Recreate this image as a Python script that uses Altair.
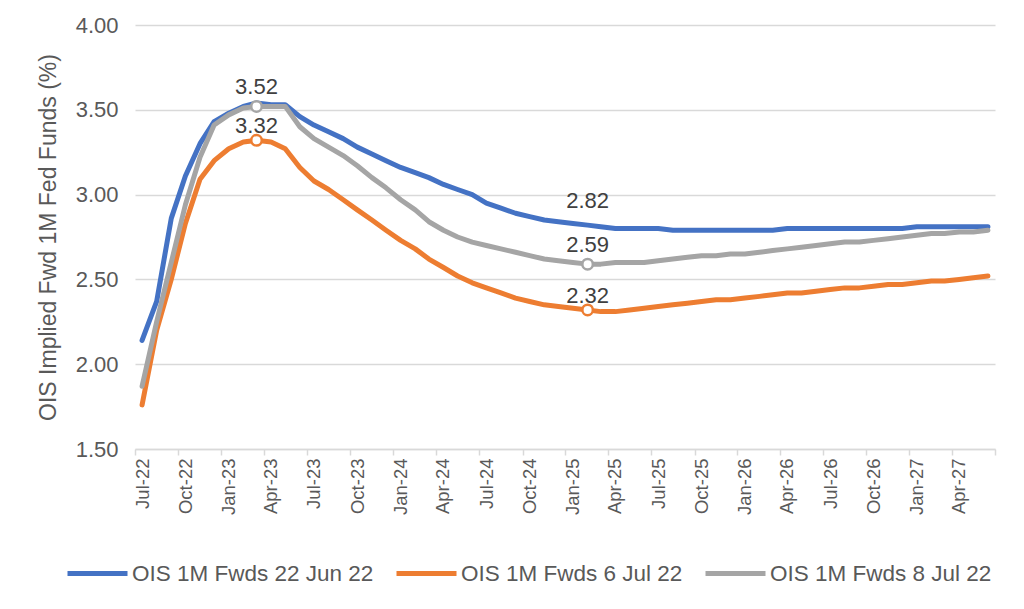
import altair as alt
import pandas as pd
from datetime import datetime, timezone

# ---------------- data ----------------
series_names = ["OIS 1M Fwds 22 Jun 22", "OIS 1M Fwds 6 Jul 22", "OIS 1M Fwds 8 Jul 22"]
series_colors = ["#4472C4", "#ED7D31", "#A5A5A5"]

n_months = 60  # Jul-22 .. Jun-27
months = [f"{2022 + (6 + i) // 12}-{(6 + i) % 12 + 1:02d}-01" for i in range(n_months)]

fwd_22jun = [2.14, 2.37, 2.86, 3.11, 3.30, 3.43, 3.48, 3.52, 3.54, 3.53, 3.53, 3.46,
             3.41, 3.37, 3.33, 3.28, 3.24, 3.20, 3.16, 3.13, 3.10, 3.06, 3.03, 3.00,
             2.95, 2.92, 2.89, 2.87, 2.85, 2.84, 2.83, 2.82, 2.81, 2.80, 2.80, 2.80,
             2.80, 2.79, 2.79, 2.79, 2.79, 2.79, 2.79, 2.79, 2.79, 2.80, 2.80, 2.80,
             2.80, 2.80, 2.80, 2.80, 2.80, 2.80, 2.81, 2.81, 2.81, 2.81, 2.81, 2.81]
fwd_6jul = [1.76, 2.20, 2.50, 2.83, 3.09, 3.20, 3.27, 3.31, 3.32, 3.31, 3.27, 3.16,
            3.08, 3.03, 2.97, 2.91, 2.85, 2.79, 2.73, 2.68, 2.62, 2.57, 2.52, 2.48,
            2.45, 2.42, 2.39, 2.37, 2.35, 2.34, 2.33, 2.32, 2.31, 2.31, 2.32, 2.33,
            2.34, 2.35, 2.36, 2.37, 2.38, 2.38, 2.39, 2.40, 2.41, 2.42, 2.42, 2.43,
            2.44, 2.45, 2.45, 2.46, 2.47, 2.47, 2.48, 2.49, 2.49, 2.50, 2.51, 2.52]
fwd_8jul = [1.87, 2.25, 2.60, 2.94, 3.22, 3.41, 3.47, 3.51, 3.52, 3.52, 3.52, 3.40,
            3.33, 3.28, 3.23, 3.17, 3.10, 3.04, 2.97, 2.91, 2.84, 2.79, 2.75, 2.72,
            2.70, 2.68, 2.66, 2.64, 2.62, 2.61, 2.60, 2.59, 2.59, 2.60, 2.60, 2.60,
            2.61, 2.62, 2.63, 2.64, 2.64, 2.65, 2.65, 2.66, 2.67, 2.68, 2.69, 2.70,
            2.71, 2.72, 2.72, 2.73, 2.74, 2.75, 2.76, 2.77, 2.77, 2.78, 2.78, 2.79]
series_values = [fwd_22jun, fwd_6jul, fwd_8jul]

y_ticks = [1.50, 2.00, 2.50, 3.00, 3.50, 4.00]

# annotations: series index, month index, label, show marker
ann_series = [2, 1, 0, 2, 1]
ann_month = [8, 8, 31, 31, 31]
ann_label = ["3.52", "3.32", "2.82", "2.59", "2.32"]
ann_marker = [True, True, False, True, True]

# ---------------- build table ----------------
rows = []
for s, vals in zip(series_names, series_values):
    for m, v in zip(months, vals):
        rows.append({"date": m, "series": s, "value": v})
df = pd.DataFrame(rows)


def ms(y, m, d):
    return int(datetime(y, m, d, tzinfo=timezone.utc).timestamp() * 1000)


dom = [ms(2022, 6, 16), ms(2027, 6, 16)]
tick_vals = []
y, m = 2022, 6
while (y, m) <= (2027, 6):
    tick_vals.append(ms(y, m, 16))
    m += 3
    if m > 12:
        m -= 12
        y += 1
last_label_limit = ms(2027, 3, 20)

FONT = "Liberation Sans"
TXT = "#595959"
GRID = "#D9D9D9"

x_enc = alt.X(
    "date:T",
    scale=alt.Scale(type="utc", domain=dom),
    axis=alt.Axis(
        values=tick_vals,
        labelExpr=(f"time(datum.value) > {last_label_limit} ? '' : "
                   "utcFormat(time(datum.value) + 1382400000, '%b-%y')"),
        title=None,
        grid=False,
        labelAngle=270,
        labelAlign="right",
        labelBaseline="middle",
        labelOffset=7,
        labelPadding=3,
        labelFontSize=18.5,
        labelFont=FONT,
        labelColor=TXT,
        domainColor=GRID,
        domainWidth=1.5,
        tickColor=GRID,
        tickWidth=1.5,
        tickSize=6,
    ),
)
y_enc = alt.Y(
    "value:Q",
    scale=alt.Scale(domain=[1.5, 4.0], nice=False, zero=False),
    axis=alt.Axis(
        values=y_ticks,
        format=".2f",
        title="OIS Implied Fwd 1M Fed Funds (%)",
        titleFont=FONT,
        titleFontSize=23,
        titleFontWeight="normal",
        titleColor=TXT,
        titlePadding=15,
        labelFont=FONT,
        labelFontSize=22,
        labelColor=TXT,
        labelPadding=17,
        ticks=False,
        tickSize=0,
        domain=False,
        grid=True,
        gridColor=GRID,
        gridWidth=1.5,
    ),
)

lines = alt.Chart(df).mark_line(strokeWidth=5, strokeCap="round", strokeJoin="round").encode(
    x=x_enc,
    y=y_enc,
    color=alt.Color(
        "series:N",
        scale=alt.Scale(domain=series_names, range=series_colors),
        sort=series_names,
        legend=alt.Legend(
            title=None,
            orient="none",
            legendX=-70,
            legendY=516,
            direction="horizontal",
            columns=3,
            symbolType="stroke",
            symbolSize=3600,
            symbolStrokeWidth=5,
            labelFont=FONT,
            labelFontSize=22.5,
            labelColor=TXT,
            labelLimit=400,
            labelOffset=2,
            columnPadding=12,
        ),
    ),
)

layers = [lines]
text_dy = [-12, -7, -17, -12, -7]
for k in range(len(ann_label)):
    si = ann_series[k]
    mi = ann_month[k]
    pt = pd.DataFrame({"date": [months[mi]], "value": [series_values[si][mi]], "label": [ann_label[k]]})
    base = alt.Chart(pt).encode(x=alt.X("date:T"), y=alt.Y("value:Q"))
    if ann_marker[k]:
        layers.append(base.mark_point(filled=True, fill="white", stroke=series_colors[si],
                                      strokeWidth=2.5, size=110, opacity=1))
    layers.append(base.mark_text(font=FONT, fontSize=22, color="#404040", baseline="alphabetic",
                                 align="center", dy=text_dy[k]).encode(text="label:N"))

chart = alt.layer(*layers).properties(
    width=860,
    height=424,
    autosize=alt.AutoSizeParams(type="none"),
    padding={"left": 127, "top": 17, "right": 16, "bottom": 150},
    background="white",
).configure_view(stroke=None)

chart.save("out.html", embed_options={"renderer": "svg", "actions": False})
